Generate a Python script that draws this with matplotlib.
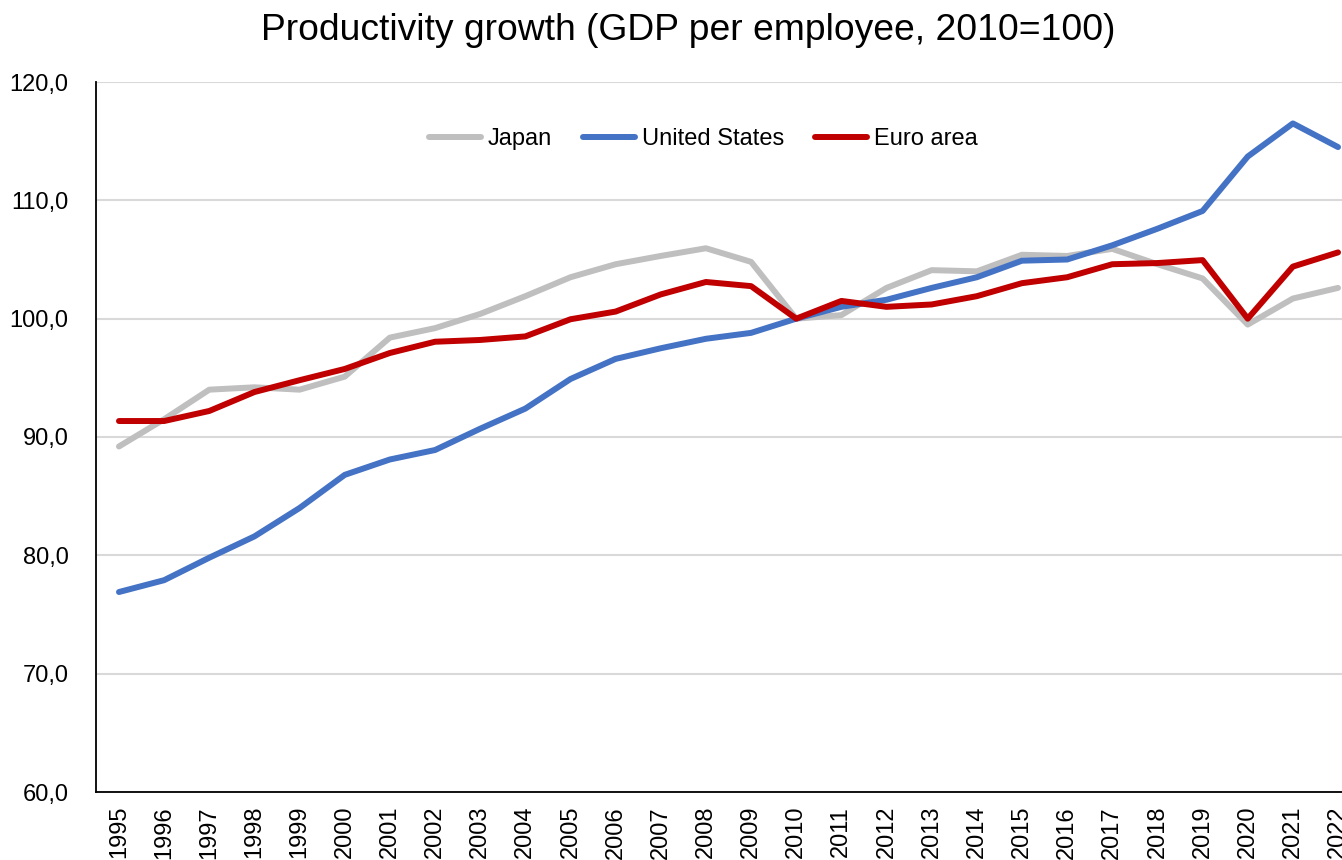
import matplotlib
matplotlib.use("Agg")
import matplotlib.pyplot as plt
from matplotlib.ticker import FuncFormatter, MultipleLocator

plt.rcParams['font.family'] = ['Liberation Sans', 'DejaVu Sans']

years = [str(y) for y in range(1995, 2023)]

japan = [89.2, 91.5, 94.0, 94.2, 94.0, 95.1, 98.4, 99.2, 100.4, 101.9,
         103.5, 104.6, 105.3, 105.95, 104.8, 100.0, 100.3, 102.6, 104.1, 104.0,
         105.4, 105.3, 105.9, 104.6, 103.4, 99.5, 101.7, 102.6]

united_states = [76.9, 77.9, 79.8, 81.6, 84.0, 86.8, 88.1, 88.9, 90.7, 92.4,
                 94.9, 96.6, 97.5, 98.3, 98.8, 100.0, 101.0, 101.6, 102.6, 103.5,
                 104.9, 105.0, 106.2, 107.6, 109.1, 113.7, 116.5, 114.5]

euro_area = [91.35, 91.35, 92.2, 93.8, 94.8, 95.75, 97.1, 98.05, 98.2, 98.5,
             99.95, 100.6, 102.05, 103.1, 102.75, 100.0, 101.5, 101.0, 101.2, 101.9,
             103.0, 103.5, 104.6, 104.7, 104.95, 100.0, 104.4, 105.6]

series = [
    ("Japan", japan, "#BFBFBF"),
    ("United States", united_states, "#4472C4"),
    ("Euro area", euro_area, "#C00000"),
]

fig = plt.figure(figsize=(13.42, 8.60), dpi=100)
ax = fig.add_axes([96.4 / 1342, 68 / 860, (1360.6 - 96.4) / 1342, (792 - 82) / 860])

x = list(range(len(years)))
for name, vals, color in series:
    ax.plot(x, vals, color=color, linewidth=4.3, label=name,
            solid_joinstyle='round', solid_capstyle='round', zorder=3)

ax.set_xlim(-0.5, len(years) - 0.5)
ax.set_ylim(60, 120)
ax.yaxis.set_major_locator(MultipleLocator(10))
ax.yaxis.set_major_formatter(FuncFormatter(lambda v, p: f"{v:.1f}".replace('.', ',')))
ax.set_xticks(x)
ax.set_xticklabels(years, rotation=90)

ax.grid(axis='y', color='#D9D9D9', linewidth=1.5, zorder=0)
ax.set_axisbelow(True)

for side in ('top', 'right'):
    ax.spines[side].set_visible(False)
for side in ('left', 'bottom'):
    ax.spines[side].set_color('black')
    ax.spines[side].set_linewidth(1.3)

ax.tick_params(axis='y', length=0, pad=20, labelsize=17)
ax.tick_params(axis='x', length=0, pad=10, labelsize=17)

fig.text(688.5 / 1342, 1 - 31 / 860, "Productivity growth (GDP per employee, 2010=100)",
         ha='center', va='center', fontsize=26.8)

fig.legend(loc='center', bbox_to_anchor=(703 / 1342, 1 - 139 / 860), ncol=3,
           frameon=False, fontsize=17, handlelength=2.2, handletextpad=0.3,
           columnspacing=1.3)

fig.savefig("out.png", dpi=100)
